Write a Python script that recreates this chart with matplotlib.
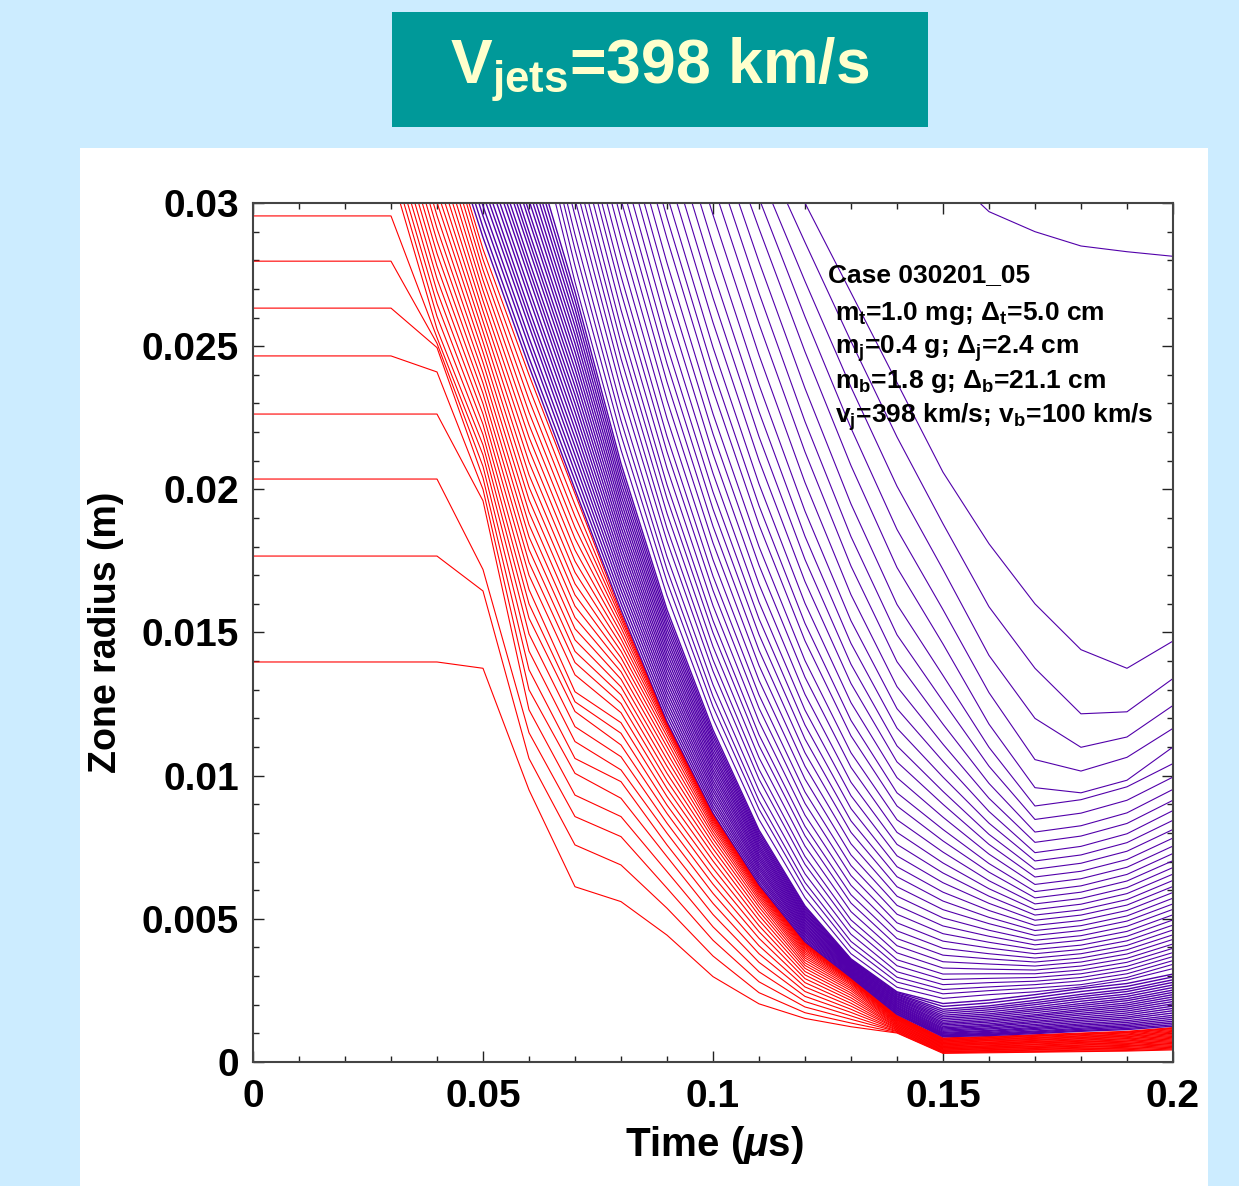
import numpy as np
import matplotlib
matplotlib.use("Agg")
import matplotlib.pyplot as plt
from matplotlib.patches import Rectangle
from matplotlib.ticker import MultipleLocator, FuncFormatter

nan = np.nan

# sample times in microseconds
time_us = [0.00, 0.01, 0.02, 0.03, 0.04, 0.05, 0.06, 0.07, 0.08, 0.09, 0.10,
           0.11, 0.12, 0.13, 0.14, 0.15, 0.16, 0.17, 0.18, 0.19, 0.20]

# target liner zone radii (mm): one row per sample time, one column per zone
liner_mm = [
    [13.97, 17.67, 20.36, 22.63, 24.66, 26.33, 27.97, 29.55] + [nan] * 20,
    [13.97, 17.67, 20.36, 22.63, 24.66, 26.33, 27.97, 29.55] + [nan] * 20,
    [13.97, 17.67, 20.36, 22.63, 24.66, 26.33, 27.97, 29.55] + [nan] * 20,
    [13.97, 17.67, 20.36, 22.63, 24.66, 26.33, 27.97, 29.55, 31.10, 31.54,
     31.98, 32.42, 32.86, 33.30, 33.74, 34.18, 34.62, 35.06] + [nan] * 10,
    [13.97, 17.67, 20.36, 22.63, 24.10, 24.95, 25.10, 25.30, 25.60, 26.04,
     26.48, 26.92, 27.36, 27.80, 28.24, 28.68, 29.12, 29.56, 30.02, 30.44,
     30.88, 31.32, 31.76, 32.20, 32.64, 33.08, 33.52, 33.70],
    [13.75, 16.45, 17.20, 19.60, 20.00, 20.40, 20.80, 21.20, 21.55, 21.91,
     22.27, 22.63, 22.99, 23.35, 23.71, 24.07, 24.43, 24.79, 25.15, 25.51,
     25.87, 26.23, 26.59, 26.95, 27.31, 27.67, 28.03, 28.39],
    [9.50, 10.60, 11.50, 12.30, 13.00, 13.70, 14.35, 14.95, 15.50, 16.00,
     16.50, 17.00, 17.45, 17.90, 18.34, 18.77, 19.21, 19.64, 20.08, 20.51,
     20.95, 21.39, 21.82, 22.26, 22.69, 23.13, 23.56, 24.00],
    [6.12, 7.58, 8.57, 9.32, 10.08, 10.60, 11.19, 11.71, 12.24, 12.58,
     12.93, 13.52, 13.95, 14.34, 14.74, 15.13, 15.52, 15.92, 16.31, 16.70,
     17.10, 17.49, 17.88, 18.28, 18.67, 19.06, 19.46, 19.85],
    [5.60, 6.88, 7.87, 8.57, 9.21, 9.79, 10.20, 10.66, 11.07, 11.48,
     11.85, 12.20, 12.52, 12.82, 13.10, 13.37, 13.63, 13.88, 14.12, 14.35,
     14.57, 14.78, 14.98, 15.17, 15.34, 15.48, 15.59, 15.68],
    [4.43, 5.37, 6.07, 6.65, 7.17, 7.58, 7.99, 8.34, 8.68, 8.97,
     9.27, 9.55, 9.82, 10.08, 10.33, 10.57, 10.80, 11.01, 11.20, 11.37,
     11.51, 11.62, 11.70, 11.76, 11.80, 11.83, 11.85, 11.87],
    [2.98, 3.70, 4.25, 4.72, 5.15, 5.54, 5.89, 6.21, 6.50, 6.77,
     7.02, 7.25, 7.45, 7.63, 7.79, 7.93, 8.05, 8.16, 8.25, 8.33,
     8.40, 8.46, 8.51, 8.55, 8.59, 8.62, 8.65, 8.68],
    [2.03, 2.42, 2.80, 3.15, 3.48, 3.78, 4.06, 4.32, 4.55, 4.76,
     4.95, 5.12, 5.27, 5.41, 5.53, 5.64, 5.73, 5.81, 5.88, 5.94,
     5.99, 6.03, 6.07, 6.10, 6.12, 6.14, 6.16, 6.18],
    [1.52, 1.72, 1.92, 2.11, 2.29, 2.46, 2.62, 2.77, 2.91, 3.04,
     3.16, 3.27, 3.37, 3.46, 3.55, 3.63, 3.70, 3.77, 3.83, 3.89,
     3.94, 3.99, 4.03, 4.07, 4.10, 4.13, 4.15, 4.17],
    [1.23, 1.36, 1.49, 1.61, 1.73, 1.84, 1.95, 2.05, 2.15, 2.24,
     2.33, 2.41, 2.49, 2.56, 2.62, 2.68, 2.73, 2.77, 2.81, 2.84,
     2.86, 2.88, 2.89, 2.90, 2.91, 2.92, 2.925, 2.93],
    [1.01, 1.03, 1.06, 1.08, 1.11, 1.13, 1.16, 1.18, 1.21, 1.23,
     1.26, 1.28, 1.31, 1.33, 1.36, 1.38, 1.41, 1.43, 1.46, 1.48,
     1.50, 1.52, 1.54, 1.56, 1.58, 1.59, 1.61, 1.62],
    [0.30, 0.32, 0.34, 0.36, 0.38, 0.40, 0.42, 0.44, 0.46, 0.48,
     0.50, 0.52, 0.54, 0.56, 0.58, 0.60, 0.62, 0.64, 0.66, 0.68,
     0.70, 0.72, 0.74, 0.76, 0.78, 0.80, 0.82, 0.84],
    [0.32, 0.34, 0.36, 0.38, 0.40, 0.43, 0.45, 0.47, 0.49, 0.51,
     0.53, 0.55, 0.57, 0.60, 0.62, 0.64, 0.66, 0.68, 0.70, 0.73,
     0.75, 0.77, 0.79, 0.81, 0.83, 0.85, 0.87, 0.89],
    [0.34, 0.36, 0.38, 0.41, 0.43, 0.45, 0.47, 0.50, 0.52, 0.54,
     0.56, 0.59, 0.61, 0.63, 0.66, 0.68, 0.70, 0.72, 0.75, 0.77,
     0.79, 0.82, 0.84, 0.86, 0.89, 0.91, 0.93, 0.95],
    [0.36, 0.38, 0.41, 0.43, 0.46, 0.48, 0.51, 0.53, 0.55, 0.58,
     0.60, 0.63, 0.65, 0.68, 0.70, 0.72, 0.75, 0.77, 0.80, 0.82,
     0.85, 0.87, 0.90, 0.92, 0.95, 0.97, 0.99, 1.01],
    [0.38, 0.40, 0.43, 0.46, 0.48, 0.51, 0.54, 0.56, 0.58, 0.61,
     0.64, 0.66, 0.69, 0.72, 0.74, 0.77, 0.80, 0.82, 0.85, 0.88,
     0.90, 0.93, 0.95, 0.98, 1.01, 1.03, 1.05, 1.07],
    [0.42, 0.45, 0.48, 0.51, 0.54, 0.57, 0.60, 0.63, 0.65, 0.68,
     0.71, 0.74, 0.77, 0.80, 0.83, 0.86, 0.89, 0.92, 0.95, 0.98,
     1.01, 1.04, 1.07, 1.10, 1.13, 1.16, 1.18, 1.20],
]

# jet zones packed next to the liner (mm): rows are times 0.04 .. 0.20
jet_core_mm = [
    [33.8, 34.2, 34.6, 34.9] + [nan] * 20,
    [28.8, 29.15, 29.55, 29.9, 30.3, 30.65, 31.0, 31.4, 31.75, 32.15,
     32.5, 32.85, 33.25, 33.6, 33.95, 34.35, 34.7] + [nan] * 7,
    [24.3, 24.6, 25.0, 25.3, 25.7, 26.0, 26.3, 26.7, 27.0, 27.4, 27.7, 28.0,
     28.4, 28.7, 29.0, 29.4, 29.7, 30.1, 30.45, 30.8, 31.2, 31.55, 31.95, 32.3],
    [20.0, 20.3, 20.6, 20.9, 21.2, 21.5, 21.8, 22.1, 22.4, 22.7, 23.0, 23.3,
     23.6, 23.9, 24.2, 24.5, 24.8, 25.1, 25.4, 25.7, 26.0, 26.3, 26.6, 26.9],
    [15.8, 16.02, 16.24, 16.47, 16.69, 16.91, 17.13, 17.35, 17.57, 17.8,
     18.02, 18.24, 18.46, 18.68, 18.9, 19.13, 19.35, 19.57, 19.79, 20.01,
     20.23, 20.46, 20.68, 20.9],
    [11.9, 12.07, 12.24, 12.41, 12.58, 12.75, 12.92, 13.09, 13.26, 13.43,
     13.6, 13.77, 13.93, 14.1, 14.27, 14.44, 14.61, 14.78, 14.95, 15.12,
     15.29, 15.46, 15.63, 15.8],
    [8.7, 8.83, 8.95, 9.08, 9.2, 9.33, 9.46, 9.58, 9.71, 9.83, 9.96, 10.09,
     10.21, 10.34, 10.47, 10.59, 10.72, 10.84, 10.97, 11.1, 11.22, 11.35,
     11.47, 11.6],
    [6.2, 6.28, 6.37, 6.45, 6.53, 6.61, 6.7, 6.78, 6.86, 6.94, 7.03, 7.11,
     7.19, 7.27, 7.36, 7.44, 7.52, 7.6, 7.69, 7.77, 7.85, 7.93, 8.02, 8.1],
    [4.2, 4.25, 4.31, 4.36, 4.42, 4.47, 4.53, 4.58, 4.63, 4.69, 4.74, 4.8,
     4.85, 4.91, 4.96, 5.02, 5.07, 5.12, 5.18, 5.23, 5.29, 5.34, 5.4, 5.45],
    [2.95, 2.98, 3.01, 3.03, 3.06, 3.09, 3.12, 3.15, 3.18, 3.2, 3.23, 3.26,
     3.29, 3.32, 3.35, 3.38, 3.4, 3.43, 3.46, 3.49, 3.52, 3.54, 3.57, 3.6],
    [1.66, 1.69, 1.73, 1.76, 1.8, 1.83, 1.87, 1.9, 1.93, 1.97, 2.0, 2.04,
     2.07, 2.11, 2.14, 2.18, 2.21, 2.24, 2.28, 2.31, 2.35, 2.38, 2.42, 2.45],
    [0.88, 0.90, 0.92, 0.94, 0.97, 1.00, 1.03, 1.07, 1.11, 1.15, 1.19, 1.24,
     1.29, 1.34, 1.39, 1.45, 1.51, 1.57, 1.63, 1.70, 1.77, 1.84, 1.94, 2.04],
    [0.92, 0.95, 0.97, 1.00, 1.03, 1.07, 1.10, 1.15, 1.19, 1.24, 1.28, 1.33,
     1.39, 1.44, 1.50, 1.56, 1.62, 1.68, 1.75, 1.82, 1.89, 1.96, 2.06, 2.16],
    [0.99, 1.02, 1.05, 1.08, 1.13, 1.17, 1.21, 1.26, 1.31, 1.37, 1.42, 1.48,
     1.54, 1.60, 1.65, 1.72, 1.79, 1.85, 1.92, 2.00, 2.07, 2.15, 2.25, 2.35],
    [1.07, 1.10, 1.14, 1.18, 1.23, 1.28, 1.33, 1.39, 1.45, 1.51, 1.57, 1.64,
     1.70, 1.77, 1.83, 1.90, 1.97, 2.04, 2.12, 2.20, 2.28, 2.36, 2.46, 2.56],
    [1.13, 1.17, 1.22, 1.27, 1.32, 1.38, 1.44, 1.51, 1.57, 1.64, 1.71, 1.78,
     1.85, 1.92, 1.99, 2.06, 2.14, 2.21, 2.29, 2.37, 2.46, 2.54, 2.64, 2.74],
    [1.25, 1.30, 1.36, 1.42, 1.49, 1.56, 1.63, 1.71, 1.79, 1.87, 1.95, 2.03,
     2.11, 2.19, 2.27, 2.35, 2.43, 2.51, 2.60, 2.69, 2.78, 2.87, 2.97, 3.07],
]

# outer jet zones: first sample time (us) and radii (mm) from that time on
jet_start = [0.06, 0.06, 0.06, 0.06, 0.06,
             0.07, 0.07, 0.07, 0.07, 0.07, 0.07, 0.07, 0.07, 0.07, 0.07,
             0.08, 0.08, 0.08, 0.08, 0.08, 0.08, 0.08, 0.08,
             0.09, 0.09, 0.09, 0.09, 0.09, 0.09,
             0.10, 0.10, 0.10, 0.10,
             0.11, 0.11, 0.11, 0.11,
             0.15]
jet_mm = [
    [33.76, 27.24, 21.38, 16.29, 11.99, 8.47, 5.74, 3.78, 2.61, 2.22, 2.35, 2.45, 2.62, 2.86, 3.26],
    [34.33, 27.81, 21.90, 16.77, 12.41, 8.83, 6.03, 4.01, 2.79, 2.38, 2.49, 2.58, 2.70, 2.95, 3.41],
    [34.92, 28.38, 22.40, 17.20, 12.77, 9.13, 6.27, 4.21, 2.96, 2.53, 2.62, 2.70, 2.83, 3.08, 3.54],
    [35.41, 28.90, 22.90, 17.65, 13.18, 9.48, 6.57, 4.46, 3.15, 2.70, 2.77, 2.82, 2.95, 3.21, 3.68],
    [36.03, 29.55, 23.49, 18.19, 13.65, 9.88, 6.90, 4.72, 3.36, 2.88, 2.92, 2.95, 3.08, 3.34, 3.82],
    [30.13, 24.01, 18.64, 14.05, 10.22, 7.18, 4.96, 3.57, 3.07, 3.08, 3.08, 3.21, 3.48, 3.97],
    [30.71, 24.57, 19.16, 14.51, 10.63, 7.54, 5.25, 3.81, 3.28, 3.24, 3.21, 3.35, 3.62, 4.12],
    [31.28, 25.12, 19.68, 14.99, 11.05, 7.90, 5.55, 4.06, 3.50, 3.42, 3.35, 3.49, 3.77, 4.28],
    [31.85, 25.66, 20.16, 15.42, 11.43, 8.23, 5.84, 4.31, 3.73, 3.60, 3.49, 3.63, 3.92, 4.44],
    [32.47, 26.27, 20.74, 15.94, 11.89, 8.62, 6.17, 4.58, 3.97, 3.78, 3.63, 3.78, 4.07, 4.61],
    [33.08, 26.89, 21.31, 16.47, 12.36, 9.03, 6.51, 4.86, 4.22, 3.98, 3.78, 3.93, 4.23, 4.78],
    [33.61, 27.45, 21.85, 16.97, 12.82, 9.43, 6.86, 5.16, 4.48, 4.18, 3.93, 4.08, 4.39, 4.96],
    [34.27, 28.12, 22.48, 17.54, 13.33, 9.88, 7.23, 5.47, 4.75, 4.39, 4.09, 4.25, 4.56, 5.14],
    [34.91, 28.78, 23.11, 18.13, 13.85, 10.33, 7.62, 5.79, 5.03, 4.60, 4.25, 4.41, 4.74, 5.33],
    [35.54, 29.45, 23.75, 18.71, 14.38, 10.80, 8.02, 6.12, 5.32, 4.83, 4.42, 4.59, 4.92, 5.52],
    [30.12, 24.39, 19.31, 14.93, 11.28, 8.42, 6.47, 5.62, 5.05, 4.59, 4.76, 5.10, 5.72],
    [30.78, 25.02, 19.91, 15.48, 11.77, 8.85, 6.82, 5.93, 5.29, 4.77, 4.94, 5.29, 5.92],
    [31.49, 25.71, 20.56, 16.06, 12.29, 9.30, 7.20, 6.26, 5.54, 4.95, 5.13, 5.48, 6.13],
    [32.24, 26.45, 21.24, 16.69, 12.84, 9.77, 7.60, 6.60, 5.79, 5.13, 5.31, 5.67, 6.34],
    [32.91, 27.16, 21.94, 17.35, 13.44, 10.29, 8.02, 6.95, 6.05, 5.32, 5.51, 5.88, 6.56],
    [33.63, 27.91, 22.64, 18.00, 14.02, 10.80, 8.46, 7.33, 6.33, 5.52, 5.71, 6.09, 6.79],
    [34.44, 28.76, 23.47, 18.76, 14.71, 11.39, 8.94, 7.72, 6.63, 5.73, 5.93, 6.32, 7.03],
    [35.13, 29.49, 24.17, 19.43, 15.32, 11.93, 9.40, 8.12, 6.93, 5.95, 6.15, 6.55, 7.28],
    [30.28, 24.96, 20.19, 16.02, 12.55, 9.93, 8.55, 7.26, 6.20, 6.40, 6.80, 7.54],
    [31.15, 25.83, 21.01, 16.78, 13.22, 10.48, 9.00, 7.60, 6.46, 6.66, 7.07, 7.82],
    [32.00, 26.69, 21.84, 17.55, 13.89, 11.04, 9.45, 7.95, 6.73, 6.94, 7.36, 8.12],
    [32.88, 27.60, 22.72, 18.36, 14.62, 11.66, 9.95, 8.34, 7.02, 7.23, 7.66, 8.44],
    [33.78, 28.55, 23.65, 19.24, 15.41, 12.34, 10.50, 8.75, 7.31, 7.53, 7.97, 8.78],
    [34.72, 29.59, 24.69, 20.24, 16.32, 13.11, 11.10, 9.21, 7.67, 7.89, 8.33, 9.14],
    [30.65, 25.78, 21.31, 17.32, 13.98, 11.80, 9.73, 8.03, 8.25, 8.70, 9.52],
    [31.66, 26.85, 22.37, 18.35, 14.92, 12.60, 10.33, 8.47, 8.69, 9.14, 9.95],
    [32.64, 27.95, 23.53, 19.49, 15.98, 13.50, 10.99, 8.94, 9.16, 9.61, 10.42],
    [33.58, 29.11, 24.81, 20.83, 17.27, 14.60, 11.80, 9.58, 9.40, 9.84, 11.00],
    [30.17, 26.03, 22.14, 18.60, 15.80, 12.90, 10.56, 10.16, 10.64, 11.65],
    [31.13, 27.27, 23.57, 20.11, 17.20, 14.20, 12.00, 10.99, 11.35, 12.45],
    [32.16, 28.63, 25.17, 21.83, 18.80, 15.90, 13.75, 12.16, 12.23, 13.39],
    [33.13, 30.00, 26.87, 23.73, 20.60, 18.10, 16.00, 14.40, 13.75, 14.70],
    [31.20, 29.70, 29.00, 28.50, 28.30, 28.14],
]

case_lines = [
    "Case 030201_05",
    r"m$_\mathbf{t}$=1.0 mg; $\Delta_\mathbf{t}$=5.0 cm",
    r"m$_\mathbf{j}$=0.4 g; $\Delta_\mathbf{j}$=2.4 cm",
    r"m$_\mathbf{b}$=1.8 g; $\Delta_\mathbf{b}$=21.1 cm",
    r"v$_\mathbf{j}$=398 km/s; v$_\mathbf{b}$=100 km/s",
]

plt.rcParams["font.family"] = ["Liberation Sans", "DejaVu Sans"]
plt.rcParams["font.weight"] = "bold"
plt.rcParams["mathtext.fontset"] = "custom"
plt.rcParams["mathtext.rm"] = "Liberation Sans"
plt.rcParams["mathtext.it"] = "Liberation Sans:italic"
plt.rcParams["mathtext.bf"] = "Liberation Sans:bold"

RED = "#ff0000"
PURPLE = "#5200aa"

fig = plt.figure(figsize=(12.39, 11.86), dpi=100, facecolor="#ccecff")

# white panel behind the plot and the teal title box
fig.patches.append(Rectangle((0.0646, 0.0), 0.9104, 0.8752, transform=fig.transFigure,
                             facecolor="white", edgecolor="none", zorder=-2))
fig.patches.append(Rectangle((0.3164, 0.8929), 0.4326, 0.0970, transform=fig.transFigure,
                             facecolor="#009999", edgecolor="none", zorder=-2))
fig.text(0.5327, 0.930, r"V$_\mathbf{jets}$=398 km/s", ha="center", va="baseline",
         fontsize=45, fontweight="bold", color="#ffffcc")

ax = fig.add_axes([0.2042, 0.1046, 0.7425, 0.7242])
ax.set_zorder(2)

t = np.array(time_us)

liner = np.array(liner_mm) / 1000.0
for k in range(liner.shape[1]):
    ax.plot(t, liner[:, k], color=RED, lw=0.8)

core = np.array(jet_core_mm) / 1000.0
for k in range(core.shape[1]):
    ax.plot(t[4:], core[:, k], color=PURPLE, lw=1.0)

for t0, r in zip(jet_start, jet_mm):
    i0 = int(round(t0 * 100))
    ax.plot(t[i0:i0 + len(r)], np.array(r) / 1000.0, color=PURPLE, lw=0.8)

ax.set_xlim(0, 0.2)
ax.set_ylim(0, 0.03)

ax.xaxis.set_major_locator(MultipleLocator(0.05))
ax.xaxis.set_minor_locator(MultipleLocator(0.01))
ax.yaxis.set_major_locator(MultipleLocator(0.005))
ax.yaxis.set_minor_locator(MultipleLocator(0.001))
fmt = FuncFormatter(lambda v, p: f"{v:g}")
ax.xaxis.set_major_formatter(fmt)
ax.yaxis.set_major_formatter(fmt)

ax.tick_params(which="both", direction="in", top=True, right=True, width=1, color="#222222")
ax.tick_params(which="major", length=8, labelsize=28)
ax.tick_params(which="minor", length=4.5)
ax.tick_params(axis="x", which="major", pad=12)
ax.tick_params(axis="y", which="major", pad=10)
for lbl in ax.get_xticklabels() + ax.get_yticklabels():
    lbl.set_fontweight("bold")

for side in ax.spines:
    ax.spines[side].set_color("#444444")
    ax.spines[side].set_linewidth(1.5)

ax.set_xlabel(r"Time $(\mu$s$)$", fontsize=29, fontweight="bold")
ax.set_ylabel("Zone radius (m)", fontsize=27, fontweight="bold")
ax.xaxis.set_label_coords(0.501, -0.097)
ax.xaxis.label.set_va("center")
ax.yaxis.set_label_coords(-0.16, 0.5)
ax.yaxis.label.set_va("center")

text_x = [0.625, 0.633, 0.633, 0.633, 0.633]
text_y = [0.908, 0.864, 0.825, 0.785, 0.744]
for s, x, y in zip(case_lines, text_x, text_y):
    ax.text(x, y, s, transform=ax.transAxes, fontsize=19, fontweight="bold",
            ha="left", va="baseline", color="black")

fig.savefig("out.png", dpi=100, facecolor=fig.get_facecolor())
